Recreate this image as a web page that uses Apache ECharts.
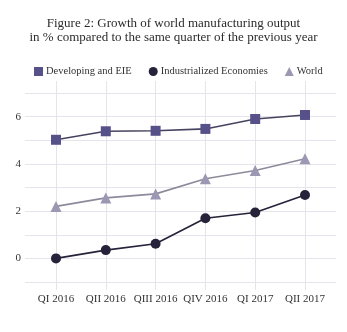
<!DOCTYPE html>
<html>
<head>
<meta charset="utf-8">
<script src="https://cdn.jsdelivr.net/npm/echarts@6/dist/echarts.min.js"></script>
<style>html,body{margin:0;padding:0;background:#fff}#c{width:347px;height:332px}</style>
</head>
<body>
<div id="c"></div>
<script>
var categories = ['QI 2016', 'QII 2016', 'QIII 2016', 'QIV 2016', 'QI 2017', 'QII 2017'];
var developing = [5.02, 5.38, 5.4, 5.48, 5.9, 6.07];
var industrialized = [0.0, 0.35, 0.62, 1.7, 1.94, 2.68];
var world = [2.2, 2.56, 2.73, 3.37, 3.72, 4.22];
var yTicks = [-1, 7, 1];

var FONT = 'Liberation Serif';
var chart = echarts.init(document.getElementById('c'), null, {renderer: 'canvas'});

// pixel geometry
var g0Top = 93, g0Bottom = 282;               // y=7 .. y=-1
var unit = (g0Bottom - g0Top) / (yTicks[1] - yTicks[0]);
var g1Top = 81, g1Bottom = 290;
var y1Max = yTicks[1] + (g0Top - g1Top) / unit;
var y1Min = yTicks[0] - (g1Bottom - g0Bottom) / unit;

var gridColor = '#e5e3eb';

chart.setOption({
  animation: false,
  backgroundColor: '#fff',
  title: {
    text: 'Figure 2: Growth of world manufacturing output\nin % compared to the same quarter of the previous year',
    left: 'center',
    top: 12,
    textStyle: {fontFamily: FONT, fontSize: 13, fontWeight: 'normal', color: '#2b2b2b', lineHeight: 14}
  },
  legend: {
    top: 61,
    left: 29,
    itemWidth: 9,
    itemHeight: 9,
    itemGap: 17,
    textStyle: {fontFamily: FONT, fontSize: 10.5, color: '#333', padding: [0, 0, 0, -2]},
    data: [
      {name: 'Developing and EIE', icon: 'rect'},
      {name: 'Industrialized Economies', icon: 'circle'},
      {name: 'World', icon: 'triangle'}
    ]
  },
  grid: [
    {left: 25, right: 347 - 336, top: g0Top, height: g0Bottom - g0Top},
    {left: 56, right: 347 - 305, top: g1Top, height: g1Bottom - g1Top}
  ],
  xAxis: [
    {gridIndex: 0, type: 'value', min: 0, max: 1, show: false},
    {
      gridIndex: 1, type: 'category', data: categories, boundaryGap: false,
      axisLine: {show: false}, axisTick: {show: false},
      axisLabel: {fontFamily: FONT, fontSize: 11, color: '#333', margin: 4, interval: 0},
      splitLine: {show: true, interval: 0, lineStyle: {color: gridColor, width: 1}}
    }
  ],
  yAxis: [
    {
      gridIndex: 0, type: 'value', min: yTicks[0], max: yTicks[1], interval: yTicks[2],
      axisLine: {show: false}, axisTick: {show: false},
      axisLabel: {fontFamily: FONT, fontSize: 11, color: '#333', margin: 4,
        formatter: function (v) { return v % 2 === 0 ? String(v) : ''; }},
      splitLine: {show: true, lineStyle: {color: gridColor, width: 1}}
    },
    {
      gridIndex: 1, type: 'value', min: y1Min, max: y1Max, show: false, splitLine: {show: false}
    }
  ],
  series: [
    {
      name: 'Developing and EIE', type: 'line', xAxisIndex: 1, yAxisIndex: 1,
      data: developing, symbol: 'rect', symbolSize: 10,
      itemStyle: {color: '#57518a'},
      lineStyle: {color: '#47435f', width: 1.6}
    },
    {
      name: 'Industrialized Economies', type: 'line', xAxisIndex: 1, yAxisIndex: 1,
      data: industrialized, symbol: 'circle', symbolSize: 10,
      itemStyle: {color: '#25223a'},
      lineStyle: {color: '#25223a', width: 1.6}
    },
    {
      name: 'World', type: 'line', xAxisIndex: 1, yAxisIndex: 1,
      data: world, symbol: 'triangle', symbolSize: 11,
      itemStyle: {color: '#9c97b2'},
      lineStyle: {color: '#8e8a9c', width: 1.6}
    }
  ]
});
</script>
</body>
</html>
